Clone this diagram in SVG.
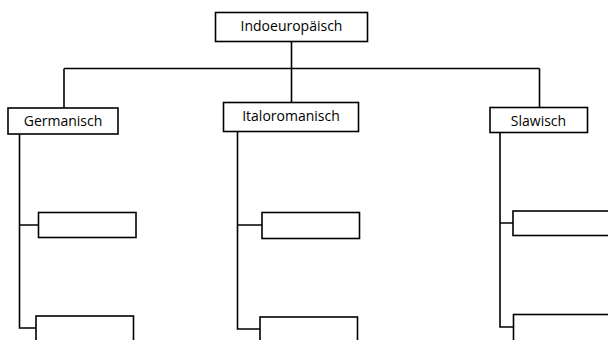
<svg xmlns="http://www.w3.org/2000/svg" width="608" height="340" viewBox="0 0 608 340">
<style>
.box{fill:#fff;stroke:#000;stroke-width:1.6}
.ln{fill:none;stroke:#000;stroke-width:1.6}
text{font-family:"Open Sans","Liberation Sans",sans-serif;font-size:14px;fill:#000;text-anchor:middle}
</style>
<rect width="608" height="340" fill="#fff"/>
<g id="connectors">
<path class="ln" d="M291.5 42V102M64 68.5H539.5M64 68.5V108M539.5 68.5V107"/>
<path class="ln" d="M19.5 134V328H36M19.5 225H38.5"/>
<path class="ln" d="M237.5 131.5V329H260M237.5 225H262"/>
<path class="ln" d="M500 132.5V327H513M500 223H513"/>
</g>
<g id="n-indo"><rect class="box" x="215.5" y="12.5" width="152" height="29"/><text x="291.5" y="31">Indoeuropäisch</text></g>
<g id="n-germ"><rect class="box" x="8" y="108" width="110" height="26"/><text x="63" y="125.5">Germanisch</text></g>
<g id="n-italo"><rect class="box" x="223.5" y="102.5" width="135" height="29"/><text x="291" y="120.5">Italoromanisch</text></g>
<g id="n-slaw"><rect class="box" x="490" y="107.5" width="97.5" height="25"/><text x="538.5" y="125.5">Slawisch</text></g>
<g id="n-g1"><rect class="box" x="38.5" y="212.5" width="97.5" height="25"/></g>
<g id="n-g2"><rect class="box" x="36" y="316" width="97.5" height="30"/></g>
<g id="n-i1"><rect class="box" x="262" y="212.5" width="97.5" height="26"/></g>
<g id="n-i2"><rect class="box" x="260" y="317" width="97.5" height="30"/></g>
<g id="n-s1"><rect class="box" x="513" y="211" width="100" height="24.5"/></g>
<g id="n-s2"><rect class="box" x="513.5" y="314.5" width="100" height="30"/></g>
</svg>
